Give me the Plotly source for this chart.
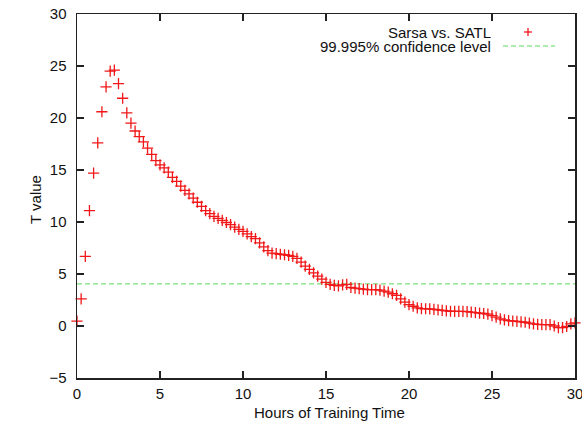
import plotly.graph_objects as go

hours = [i * 0.25 for i in range(121)]
t_values = [
    0.46, 2.6, 6.7, 11.1, 14.7, 17.6, 20.6, 23.0, 24.5, 24.6,
    23.3, 21.9, 20.5, 19.5, 18.75, 18.2, 17.7, 17.1, 16.5, 15.9,
    15.5, 15.2, 14.8, 14.3, 13.9, 13.45, 13.05, 12.7, 12.3, 11.9,
    11.5, 11.1, 10.8, 10.55, 10.35, 10.15, 9.95, 9.75, 9.5, 9.3,
    9.1, 8.85, 8.6, 8.4, 8.0, 7.6, 7.25, 7.0, 6.95, 6.9,
    6.85, 6.8, 6.7, 6.5, 6.15, 5.75, 5.45, 5.1, 4.8, 4.5,
    4.2, 4.0, 3.9, 3.85, 3.95, 4.0, 3.7, 3.65, 3.6, 3.55,
    3.5, 3.5, 3.5, 3.45, 3.35, 3.25, 3.1, 2.95, 2.6, 2.3,
    2.05, 1.9, 1.75, 1.68, 1.66, 1.65, 1.6, 1.55, 1.5, 1.45,
    1.42, 1.4, 1.4, 1.4, 1.38, 1.33, 1.28, 1.23, 1.2, 1.15,
    1.0, 0.85, 0.68, 0.58, 0.52, 0.48, 0.45, 0.4, 0.36, 0.28,
    0.21, 0.16, 0.14, 0.14, 0.13, 0.0, -0.15, -0.15, -0.05, 0.2,
    0.3,
]
confidence_level = 4.05
x_range = [0, 30]
y_range = [-5, 30]
x_ticks = [0, 5, 10, 15, 20, 25, 30]
y_ticks = [-5, 0, 5, 10, 15, 20, 25, 30]
series_name = "Sarsa vs. SATL"
conf_name = "99.995% confidence level"
x_title = "Hours of Training Time"
y_title = "T value"

RED = "#f01818"
GREEN = "#5ad85a"
FONT = "Liberation Sans, Arial, Helvetica, sans-serif"

W, H = 582, 430
# plot area in page pixels: left 77, right 575, top 14, bottom 378
ML, MT = 77, 14
MR = W - 575
MB = H - 378
PW, PH = W - ML - MR, H - MT - MB

def px(x):
    return (x - ML) / PW

def py(y):
    return (H - MB - y) / PH

fig = go.Figure()
fig.add_trace(go.Scatter(
    x=x_range, y=[confidence_level, confidence_level], mode="lines",
    line=dict(color=GREEN, width=1, dash="5px,3px"), showlegend=False,
    hoverinfo="skip",
))
fig.add_trace(go.Scatter(
    x=hours, y=t_values, mode="markers", showlegend=False,
    cliponaxis=False,
    marker=dict(symbol="cross-thin", size=8, color=RED,
                line=dict(width=1.3, color=RED)),
))

axis_common = dict(
    showgrid=False, zeroline=False, showline=True, linecolor="#222",
    linewidth=1.5, mirror="ticks", ticks="inside", ticklen=7,
    tickcolor="#222", tickwidth=1.3, automargin=False,
    ticklabeloverflow="allow",
    tickfont=dict(family=FONT, size=15, color="#111"),
)

fig.update_layout(
    width=W, height=H,
    margin=dict(l=ML, r=MR, t=MT, b=MB, autoexpand=False),
    paper_bgcolor="white", plot_bgcolor="white",
    font=dict(family=FONT, size=15, color="#111"),
    xaxis=dict(range=x_range, tickvals=x_ticks, ticklabelstandoff=1,
               **axis_common),
    yaxis=dict(range=y_range, tickvals=y_ticks, ticklabelstandoff=6,
               ticktext=["\u22125" if v < 0 else str(v) for v in y_ticks],
               **axis_common),
    showlegend=False,
)

# axis titles
fig.add_annotation(x=px(329), y=py(412), xref="paper", yref="paper",
                   text=x_title, showarrow=False, xanchor="center",
                   yanchor="middle", font=dict(family=FONT, size=15, color="#111"))
fig.add_annotation(x=px(35), y=py(200), xref="paper", yref="paper",
                   text=y_title, showarrow=False, textangle=-90,
                   xanchor="center", yanchor="middle",
                   font=dict(family=FONT, size=15, color="#111"))

# legend (gnuplot style: text then sample)
fig.add_annotation(x=px(493), y=py(32), xref="paper", yref="paper",
                   text=series_name, showarrow=False, xanchor="right",
                   yanchor="middle", height=14, valign="middle",
                   font=dict(family=FONT, size=15, color="#111"))
fig.add_annotation(x=px(493), y=py(46), xref="paper", yref="paper",
                   text=conf_name, showarrow=False, xanchor="right",
                   yanchor="middle", height=14, valign="middle",
                   font=dict(family=FONT, size=15, color="#111"))
for (x0, y0, x1, y1) in [(-4, 0, 4, 0), (0, -4, 0, 4)]:
    fig.add_shape(type="line", xref="paper", yref="paper",
                  xsizemode="pixel", ysizemode="pixel",
                  xanchor=px(528), yanchor=py(32),
                  x0=x0, x1=x1, y0=y0, y1=y1,
                  line=dict(color=RED, width=1.3))
fig.add_shape(type="line", xref="paper", yref="paper",
              x0=px(503), x1=px(555), y0=py(46), y1=py(46),
              line=dict(color=GREEN, width=1, dash="5px,3px"))

fig.write_html(
    "out.html",
    config={"displayModeBar": False, "staticPlot": True},
    post_script=(
        "document.body.style.margin='0px';"
        "document.documentElement.style.overflow='hidden';"
        "document.body.style.overflow='hidden';"
    ),
)
